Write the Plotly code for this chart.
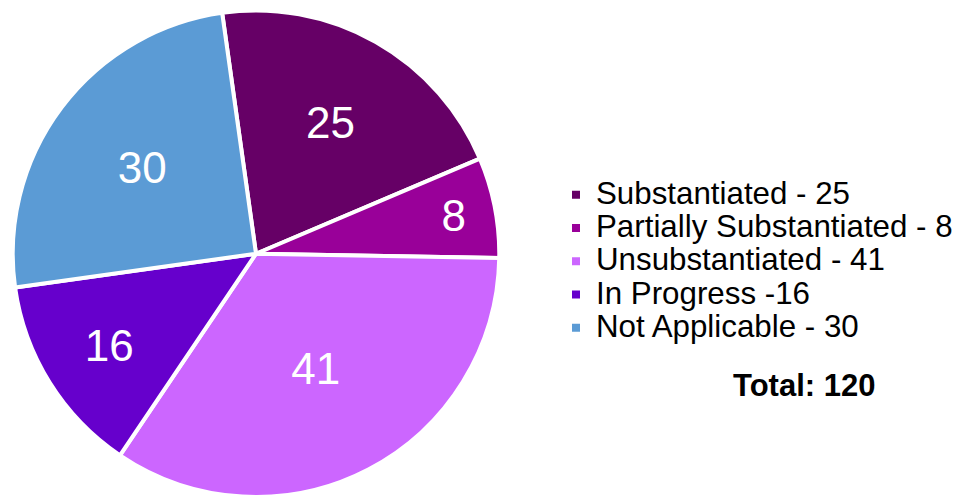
import plotly.graph_objects as go

labels = ["Substantiated - 25", "Partially Substantiated - 8", "Unsubstantiated - 41",
          "In Progress -16", "Not Applicable - 30"]
values = [25, 8, 41, 16, 30]
colors = ["#660066", "#990099", "#CC66FF", "#6600CC", "#5B9BD5"]
total_text = "Total: 120"

FONT = "Liberation Sans, Arial, sans-serif"

# the page body adds an 8px offset, so the figure is sized to fit the window
W, H = 956, 489

# legend labels drawn at ~31px while the legend row spacing follows a smaller font
legend_labels = ['<span style="font-size:31.3px">' + s + "</span>" for s in labels]

fig = go.Figure(go.Pie(
    labels=legend_labels,
    values=values,
    sort=False,
    direction="clockwise",
    rotation=-8,
    marker=dict(colors=colors, line=dict(color="white", width=4)),
    texttemplate="%{value}",
    textposition="inside",
    insidetextorientation="horizontal",
    textfont=dict(color="white", size=44, family=FONT),
    domain=dict(x=[4.7 / W, 491.3 / W], y=[0.0, 0.995]),
    hovertemplate="%{value}<extra></extra>",
))

fig.add_annotation(text="<b>" + total_text + "</b>", x=795.5 / W, y=1 - 377 / H,
                   xref="paper", yref="paper", xanchor="center", yanchor="middle",
                   showarrow=False,
                   font=dict(size=31, color="black", family=FONT))

fig.update_layout(
    width=W, height=H,
    margin=dict(l=0, r=0, t=0, b=0, autoexpand=False),
    paper_bgcolor="white",
    plot_bgcolor="white",
    showlegend=True,
    legend=dict(x=548 / W, y=1 - 165 / H, xanchor="left", yanchor="top",
                xref="container", yref="container",
                font=dict(size=23.3, color="black", family=FONT),
                tracegroupgap=0, bgcolor="rgba(0,0,0,0)"),
    font=dict(family=FONT),
)

fig.write_html("out.html")
